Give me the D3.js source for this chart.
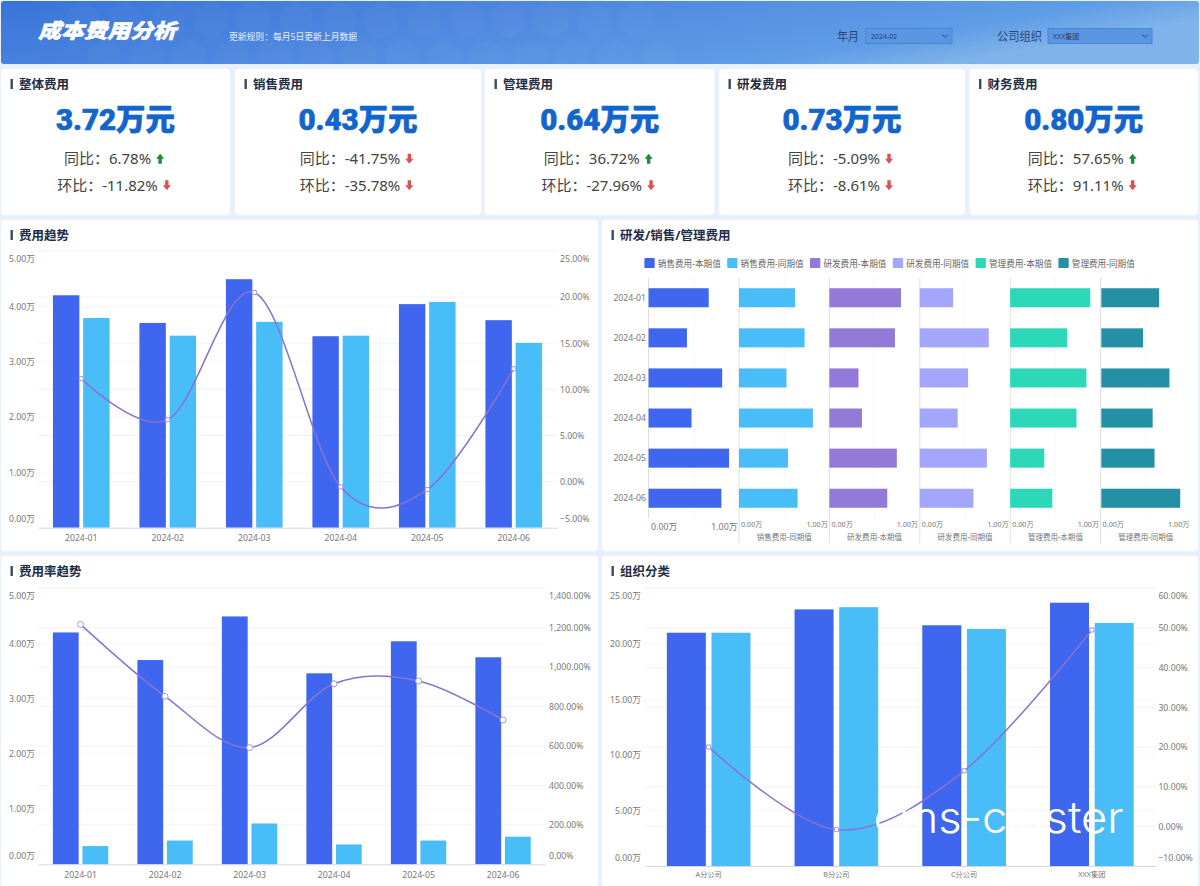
<!DOCTYPE html>
<html>
<head>
<meta charset="utf-8">
<title>成本费用分析</title>
<script src="https://cdn.jsdelivr.net/npm/d3@7"></script>
<style>
    body { margin: 0; background: #e8f0fb; }
    svg { display: block; }
    text { font-family: "Noto Sans", "Noto Sans CJK SC", sans-serif; }
    .panel-title { font-size: 12.5px; font-weight: 700; fill: #1f2d45; }
    .tick text { fill: #777; }
</style>
</head>
<body>
<div id="page"></div>
<script>
"use strict"

// Data
const months = ["2024-01", "2024-02", "2024-03", "2024-04", "2024-05", "2024-06"];
const orgs = ["A分公司", "B分公司", "C分公司", "XXX集团"];

const cardTitles = ["整体费用", "销售费用", "管理费用", "研发费用", "财务费用"];
const cardValues = ["3.72万元", "0.43万元", "0.64万元", "0.73万元", "0.80万元"];
const yoyValues = ["6.78%", "-41.75%", "36.72%", "-5.09%", "57.65%"];
const momValues = ["-11.82%", "-35.78%", "-27.96%", "-8.61%", "91.11%"];
const yoyArrows = ["up", "down", "up", "down", "up"];
const momArrows = ["down", "down", "down", "down", "down"];

const costCurrent = [4.20, 3.70, 4.49, 3.46, 4.04, 3.75];
const costPrior = [3.79, 3.47, 3.72, 3.47, 4.08, 3.34];
const costChange = [11.16, 6.71, 20.5, -0.58, -0.87, 12.24];

const rateCost = [4.20, 3.70, 4.49, 3.46, 4.04, 3.75];
const rateIncome = [0.33, 0.43, 0.74, 0.36, 0.43, 0.50];
const rateValues = [1217, 852, 592, 916, 930, 732];

const orgCurrent = [21.0, 23.1, 21.67, 23.7];
const orgPrior = [21.0, 23.3, 21.34, 21.88];
const orgChange = [20.0, -0.84, 14.0, 49.5];

const salesCurrent = [0.665, 0.424, 0.814, 0.475, 0.89, 0.805];
const salesPrior = [0.619, 0.725, 0.525, 0.818, 0.542, 0.648];
const rdCurrent = [0.792, 0.725, 0.322, 0.36, 0.746, 0.64];
const rdPrior = [0.369, 0.763, 0.534, 0.419, 0.742, 0.593];
const adminCurrent = [0.886, 0.631, 0.843, 0.733, 0.377, 0.466];
const adminPrior = [0.64, 0.462, 0.754, 0.568, 0.589, 0.873];
const splitNames = ["销售费用-本期值", "销售费用-同期值", "研发费用-本期值", "研发费用-同期值", "管理费用-本期值", "管理费用-同期值"];
const splitSeries = [salesCurrent, salesPrior, rdCurrent, rdPrior, adminCurrent, adminPrior];
const splitColors = ["#3e66ee", "#48bdf8", "#9379d8", "#a3a6fb", "#2dd8b8", "#2490a6"];

const amountTicks = [0, 1, 2, 3, 4, 5];
const orgTicks = [0, 5, 10, 15, 20, 25];
const changeTicks = [-5, 0, 5, 10, 15, 20, 25];
const rateTicks = [0, 200, 400, 600, 800, 1000, 1200, 1400];
const orgChangeTicks = [-10, 0, 10, 20, 30, 40, 50, 60];

const barColorA = "#3e66ee";
const barColorB = "#48bdf8";
const lineColor = "#8a72cf";

const svg = d3.select("#page").append("svg")
    .attr("width", 1200)
    .attr("height", 886);

drawHeader();
drawCards();

// Panel backgrounds and titles
const panels = [
    {x: 1, y: 220, w: 597, h: 331, title: "费用趋势"},
    {x: 602, y: 220, w: 596, h: 331, title: "研发/销售/管理费用"},
    {x: 1, y: 556, w: 597, h: 330, title: "费用率趋势"},
    {x: 602, y: 556, w: 596, h: 330, title: "组织分类"}
];
panels.forEach(p => {
    svg.append("rect")
        .attr("x", p.x).attr("y", p.y)
        .attr("width", p.w).attr("height", p.h)
        .attr("rx", 3)
        .attr("fill", "#fff");
    drawTitle(p.title, p.x + 9.5, p.y + 15);
});

drawCombo({
    categories: months, barA: costCurrent, barB: costPrior, line: costChange,
    leftTicks: amountTicks, rightTicks: changeTicks,
    x0: 38, x1: 557, top: 251, bottom: 527.7,
    leftX: 35, rightX: 560, labelY: 538, labelSize: 8.7, marker: "square"
});

drawCombo({
    categories: months, barA: rateCost, barB: rateIncome, line: rateValues,
    leftTicks: amountTicks, rightTicks: rateTicks,
    x0: 38.3, x1: 545.3, top: 588.3, bottom: 864.3,
    leftX: 35, rightX: 549, labelY: 875, labelSize: 8.7, marker: "circle"
});

drawCombo({
    categories: orgs, barA: orgCurrent, barB: orgPrior, line: orgChange,
    leftTicks: orgTicks, rightTicks: orgChangeTicks,
    x0: 644.8, x1: 1155.7, top: 588.3, bottom: 866,
    leftX: 641, rightX: 1158.4, labelY: 875, labelSize: 7.2, marker: "square"
});

drawSplitBars();

// White watermark laid over the last chart
svg.append("text")
    .attr("x", 873.5)
    .attr("y", 833)
    .attr("textLength", 250)
    .attr("lengthAdjust", "spacingAndGlyphs")
    .style("font-family", "Inter, Roboto, sans-serif")
    .style("font-weight", 300)
    .style("font-size", "44px")
    .attr("fill", "#fff")
    .text("cms-cluster");


function drawTitle(label, x, cy) {
    svg.append("rect")
        .attr("x", x).attr("y", cy - 5)
        .attr("width", 2.4).attr("height", 10)
        .attr("fill", "#3b4a63");
    svg.append("text")
        .attr("class", "panel-title")
        .attr("x", x + 8.5)
        .attr("y", cy)
        .attr("dominant-baseline", "central")
        .text(label);
}

function drawHeader() {
    const defs = svg.append("defs");
    const grad = defs.append("linearGradient")
        .attr("id", "headerFill")
        .attr("x1", "0%").attr("y1", "0%")
        .attr("x2", "100%").attr("y2", "30%");
    grad.append("stop").attr("offset", "0%").attr("stop-color", "#3a74d9");
    grad.append("stop").attr("offset", "45%").attr("stop-color", "#4f88df");
    grad.append("stop").attr("offset", "85%").attr("stop-color", "#5f9ce6");
    grad.append("stop").attr("offset", "100%").attr("stop-color", "#7fb3e9");

    defs.append("clipPath").attr("id", "headerClip")
        .append("rect")
        .attr("x", 1).attr("y", 1)
        .attr("width", 1198).attr("height", 63)
        .attr("rx", 3);

    svg.append("rect")
        .attr("x", 1).attr("y", 1)
        .attr("width", 1198).attr("height", 63)
        .attr("rx", 3)
        .attr("fill", "url(#headerFill)");

    // Faint honeycomb behind the header text
    const hex = d3.range(6).map(i => {
        const a = Math.PI / 3 * i + Math.PI / 6;
        return [19 * Math.cos(a), 19 * Math.sin(a)];
    });
    const hexPath = d3.line()(hex) + "Z";
    const honeycomb = svg.append("g").attr("clip-path", "url(#headerClip)");
    d3.range(2).forEach(row => {
        d3.range(14).forEach(col => {
            honeycomb.append("path")
                .attr("d", hexPath)
                .attr("transform", `translate(${(row ? 104 : 83) + col * 42.6}, ${row ? 58 : 20})`)
                .attr("fill", "#fff")
                .attr("opacity", 0.025);
        });
    });

    svg.append("text")
        .attr("x", 38).attr("y", 30)
        .attr("dominant-baseline", "central")
        .attr("textLength", 138)
        .attr("lengthAdjust", "spacingAndGlyphs")
        .style("font-size", "20px")
        .style("font-weight", 900)
        .style("font-style", "italic")
        .attr("fill", "#fff")
        .attr("stroke", "#fff")
        .attr("stroke-width", 0.5)
        .text("成本费用分析");

    svg.append("text")
        .attr("x", 229).attr("y", 36)
        .attr("dominant-baseline", "central")
        .attr("textLength", 128)
        .attr("lengthAdjust", "spacingAndGlyphs")
        .style("font-size", "9.5px")
        .attr("fill", "#e4eefc")
        .text("更新规则：每月5日更新上月数据");

    drawFilter("年月", 837, 22, 866, 86, "2024-02");
    drawFilter("公司组织", 997, 45, 1048, 104, "XXX集团");
}

function drawFilter(label, labelX, labelW, boxX, boxW, value) {
    svg.append("text")
        .attr("x", labelX).attr("y", 36)
        .attr("dominant-baseline", "central")
        .attr("textLength", labelW)
        .attr("lengthAdjust", "spacingAndGlyphs")
        .style("font-size", "12px")
        .attr("fill", "#27487c")
        .text(label);
    svg.append("rect")
        .attr("x", boxX).attr("y", 28.5)
        .attr("width", boxW).attr("height", 15)
        .attr("fill", "#5a96e2")
        .attr("stroke", "#4585d8");
    svg.append("text")
        .attr("x", boxX + 5).attr("y", 36)
        .attr("dominant-baseline", "central")
        .style("font-size", "7px")
        .attr("fill", "#2a3f66")
        .text(value);
    const cx = boxX + boxW - 7;
    svg.append("path")
        .attr("d", d3.line()([[cx - 3, 34.5], [cx, 37.5], [cx + 3, 34.5]]))
        .attr("fill", "none")
        .attr("stroke", "#27487c");
}

function drawCards() {
    const cards = [[1, 230], [235, 481], [485, 714.5], [719, 965], [969.5, 1198]];
    cards.forEach((edge, i) => {
        const cx = (edge[0] + edge[1]) / 2;
        svg.append("rect")
            .attr("x", edge[0]).attr("y", 69)
            .attr("width", edge[1] - edge[0]).attr("height", 146)
            .attr("rx", 4)
            .attr("fill", "#fff");
        drawTitle(cardTitles[i], edge[0] + 9.5, 84);

        svg.append("text")
            .attr("x", cx).attr("y", 120)
            .attr("text-anchor", "middle")
            .attr("dominant-baseline", "central")
            .style("font-family", 'Roboto, "Noto Sans CJK SC", sans-serif')
            .style("font-size", "29.5px")
            .style("font-weight", 900)
            .attr("fill", "#1165cc")
            .attr("stroke", "#1165cc")
            .attr("stroke-width", 0.6)
            .text(cardValues[i]);

        drawDelta(`同比：${yoyValues[i]}`, yoyArrows[i], cx, 158);
        drawDelta(`环比：${momValues[i]}`, momArrows[i], cx, 184.5);
    });
}

function drawDelta(label, dir, cx, cy) {
    const text = svg.append("text")
        .attr("x", cx - 8)
        .attr("y", cy)
        .attr("text-anchor", "middle")
        .attr("dominant-baseline", "central")
        .style("font-size", "15px")
        .attr("fill", "#444")
        .text(label);
    const ax = cx - 8 + text.node().getComputedTextLength() / 2 + 9;
    const s = dir == "up" ? -1 : 1;
    svg.append("path")
        .attr("d", d3.line()([
            [-1.7, -5 * s], [1.7, -5 * s], [1.7, 0], [4, 0],
            [0, 5 * s], [-4, 0], [-1.7, 0]
        ]) + "Z")
        .attr("transform", `translate(${ax}, ${cy + 0.8})`)
        .attr("fill", dir == "up" ? "#1f8a35" : "#e0504f");
}

function drawCombo(c) {
    const xScale = d3.scaleBand()
        .domain(c.categories)
        .range([c.x0, c.x1])
        .paddingInner(0.345)
        .paddingOuter(0.1725);
    const inner = d3.scaleBand()
        .domain(["a", "b"])
        .range([0, xScale.bandwidth()])
        .paddingInner(0.127);
    const yLeft = d3.scaleLinear()
        .domain(d3.extent(c.leftTicks))
        .range([c.bottom, c.top]);
    const yRight = d3.scaleLinear()
        .domain(d3.extent(c.rightTicks))
        .range([c.bottom, c.top]);

    // Both axes put their own faint gridlines on the plot
    const grid = svg.append("g");
    c.leftTicks.slice(1).forEach(t => grid.append("line")
        .attr("x1", c.x0).attr("x2", c.x1)
        .attr("y1", yLeft(t)).attr("y2", yLeft(t))
        .attr("stroke", "#eef0f3")
        .attr("stroke-dasharray", "2,2"));
    c.rightTicks.slice(1).forEach(t => grid.append("line")
        .attr("x1", c.x0).attr("x2", c.x1)
        .attr("y1", yRight(t)).attr("y2", yRight(t))
        .attr("stroke", "#f1f3f5"));

    const plot = svg.append("g");
    [[c.barA, "a", barColorA], [c.barB, "b", barColorB]].forEach(s => {
        plot.selectAll(null)
            .data(s[0])
            .enter().append("rect")
                .attr("x", (d, i) => xScale(c.categories[i]) + inner(s[1]))
                .attr("y", d => yLeft(d))
                .attr("width", inner.bandwidth())
                .attr("height", d => c.bottom - yLeft(d))
                .attr("fill", s[2]);
    });

    // Axes
    const leftAxis = svg.append("g")
        .attr("transform", `translate(${c.leftX}, 0)`)
        .call(d3.axisLeft(yLeft)
            .tickValues(c.leftTicks)
            .tickSize(0)
            .tickPadding(0)
            .tickFormat(d => d3.format(".2f")(d) + "万"));
    const rightAxis = svg.append("g")
        .attr("transform", `translate(${c.rightX}, 0)`)
        .call(d3.axisRight(yRight)
            .tickValues(c.rightTicks)
            .tickSize(0)
            .tickPadding(0)
            .tickFormat(d => d3.format(",.2f")(d) + "%"));
    [leftAxis, rightAxis].forEach(axis => {
        axis.select(".domain").remove();
        axis.selectAll("text").style("font-size", "8.7px");
        // First and last labels are pulled inside the plot height
        axis.selectAll(".tick").each(function (d, i, nodes) {
            const shift = i == 0 ? -8.6 : i == nodes.length - 1 ? 7.5 : 0;
            d3.select(this).select("text").attr("dy", "0.32em").attr("y", shift);
        });
    });

    const bottomAxis = svg.append("g")
        .attr("transform", `translate(0, ${c.bottom})`)
        .call(d3.axisBottom(xScale).tickSize(0).tickPadding(0));
    bottomAxis.select(".domain").attr("stroke", "#d5d7db");
    bottomAxis.selectAll("text")
        .attr("y", c.labelY - c.bottom)
        .attr("dy", "0.32em")
        .style("font-size", c.labelSize + "px");

    // Change line, a Catmull-Rom spline through the category centres
    const cx = i => xScale(c.categories[i]) + xScale.bandwidth() / 2;
    const line = d3.line()
        .x((d, i) => cx(i))
        .y(d => yRight(d))
        .curve(d3.curveCatmullRom.alpha(0));
    svg.append("path")
        .attr("d", line(c.line))
        .attr("fill", "none")
        .attr("stroke", lineColor)
        .attr("stroke-width", 1.5);

    const symbol = c.marker == "circle"
        ? d3.symbol(d3.symbolCircle, 28)
        : d3.symbol(d3.symbolSquare, 16);
    svg.selectAll(null)
        .data(c.line)
        .enter().append("path")
            .attr("d", symbol)
            .attr("transform", (d, i) => `translate(${cx(i)}, ${yRight(d)})`)
            .attr("fill", "#fff")
            .attr("stroke", "#a796dc")
            .attr("stroke-width", 1);
}

function drawSplitBars() {
    const firstX = 648.6;
    const panelW = 90.4;
    const top = 277.7;
    const bottom = 518.3;

    // Legend
    const legendX = d3.scaleBand()
        .domain(splitNames)
        .range([644.4, 644.4 + 82.8 * 6]);
    splitNames.forEach((name, i) => {
        svg.append("rect")
            .attr("x", legendX(name)).attr("y", 258)
            .attr("width", 10.3).attr("height", 10)
            .attr("rx", 1)
            .attr("fill", splitColors[i]);
        svg.append("text")
            .attr("x", legendX(name) + 13.4).attr("y", 263)
            .attr("dominant-baseline", "central")
            .attr("textLength", 63)
            .attr("lengthAdjust", "spacingAndGlyphs")
            .style("font-size", "9px")
            .attr("fill", "#666")
            .text(name);
    });

    // Bars fill about half of each row, with half a gap above the first
    const yScale = d3.scaleBand()
        .domain(months)
        .range([top, bottom])
        .paddingInner(0.525)
        .paddingOuter(0.2625);

    splitSeries.forEach((values, i) => {
        const x0 = firstX + panelW * i;
        const xScale = d3.scaleLinear()
            .domain([0, 1])
            .range([x0, x0 + panelW]);
        const g = svg.append("g");

        g.append("line")
            .attr("x1", xScale(0.5)).attr("x2", xScale(0.5))
            .attr("y1", top).attr("y2", bottom)
            .attr("stroke", "#eef0f3")
            .attr("stroke-dasharray", "2,2");
        g.append("line")
            .attr("x1", x0).attr("x2", x0)
            .attr("y1", top).attr("y2", i == 0 ? bottom : 542.7)
            .attr("stroke", "#dcdee2");

        g.selectAll(null)
            .data(values)
            .enter().append("rect")
                .attr("x", x0 + (i == 5 ? 0.7 : 0))
                .attr("y", (d, j) => yScale(months[j]))
                .attr("width", d => xScale(d) - x0)
                .attr("height", yScale.bandwidth())
                .attr("fill", splitColors[i]);

        const axis = g.append("g")
            .attr("transform", `translate(0, ${bottom})`)
            .call(d3.axisBottom(xScale)
                .tickValues([0, 1])
                .tickSize(0)
                .tickPadding(0)
                .tickFormat(d => d3.format(".2f")(d) + "万"));
        axis.select(".domain").remove();
        axis.selectAll("text")
            .attr("text-anchor", d => d == 0 ? "start" : "end")
            .attr("dx", d => d == 0 ? (i == 0 ? 2 : 1.5) : -2)
            .attr("y", i == 0 ? 8.4 : 6.7)
            .attr("dy", "0.32em")
            .style("font-size", i == 0 ? "8.8px" : "7.2px");

        if (i == 0) {
            const yAxis = g.append("g")
                .attr("transform", "translate(646, 0)")
                .call(d3.axisLeft(yScale).tickSize(0).tickPadding(0));
            yAxis.select(".domain").remove();
            yAxis.selectAll("text").style("font-size", "8.7px");
        } else {
            g.append("text")
                .attr("x", xScale(0.5)).attr("y", 536)
                .attr("text-anchor", "middle")
                .attr("dominant-baseline", "central")
                .attr("textLength", 55)
                .attr("lengthAdjust", "spacingAndGlyphs")
                .style("font-size", "8px")
                .attr("fill", "#777")
                .text(splitNames[i]);
        }
    });
}
</script>
</body>
</html>
